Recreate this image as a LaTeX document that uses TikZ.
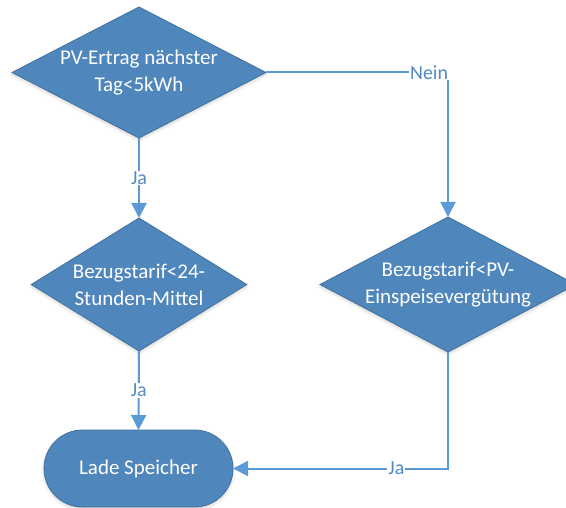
\documentclass[tikz,border=0pt]{standalone}
\usepackage{fontspec}
\setmainfont{Carlito}
\usetikzlibrary{shapes.geometric,shapes.misc,arrows.meta,shadows.blur}
\definecolor{boxfill}{RGB}{79,134,188}
\definecolor{boxline}{RGB}{65,113,158}
\definecolor{linkcolor}{RGB}{91,155,213}
\definecolor{labelcolor}{RGB}{84,138,196}

\begin{document}
\begin{tikzpicture}[x=1bp,y=-1bp,inner sep=0pt,outer sep=0pt,
  entscheid/.style={diamond,aspect=2,fill=boxfill,draw=boxline,line width=0.8bp,
    text=white,align=center,font=\fontsize{21bp}{27bp}\selectfont,
    blur shadow={shadow xshift=0bp,shadow yshift=-2bp,shadow blur radius=3bp,shadow opacity=18}},
  aktion/.style={rounded rectangle,fill=boxfill,draw=boxline,line width=0.8bp,
    text=white,font=\fontsize{21bp}{27bp}\selectfont,
    blur shadow={shadow xshift=0bp,shadow yshift=-2bp,shadow blur radius=3bp,shadow opacity=18}},
  pfeil/.style={draw=linkcolor,line width=2bp,-{Triangle[width=15bp,length=15bp]}},
  marke/.style={fill=white,text=labelcolor,inner sep=1bp,font=\fontsize{20bp}{22bp}\selectfont}]
  \useasboundingbox (0,0) rectangle (566,508);
  % Knoten
  \node[entscheid,minimum width=254bp,minimum height=131bp] (ertrag) at (139,72.5) {PV-Ertrag nächster\\Tag<5kWh};
  \node[entscheid,minimum width=208bp,minimum height=133bp] (mittel) at (139,284.5) {Bezugstarif<24-\\Stunden-Mittel};
  \node[entscheid,minimum width=252bp,minimum height=135bp] (einspeis) at (448,284.5) {Bezugstarif<PV-\\Einspeisevergütung};
  \node[aktion,minimum width=189bp,minimum height=77bp] (laden) at (138.5,468.5) {Lade Speicher};
  % Verbindungen
  \draw[pfeil] (ertrag.south) -- node[marke] {Ja} (mittel.north);
  \draw[pfeil] (ertrag.east) -| node[marke,pos=0.448] {Nein} (einspeis.north);
  \draw[pfeil] (mittel.south) -- node[marke] {Ja} (laden.north);
  \draw[pfeil] (einspeis.south) |- node[marke,pos=0.62] {Ja} (laden.east);
\end{tikzpicture}
\end{document}
